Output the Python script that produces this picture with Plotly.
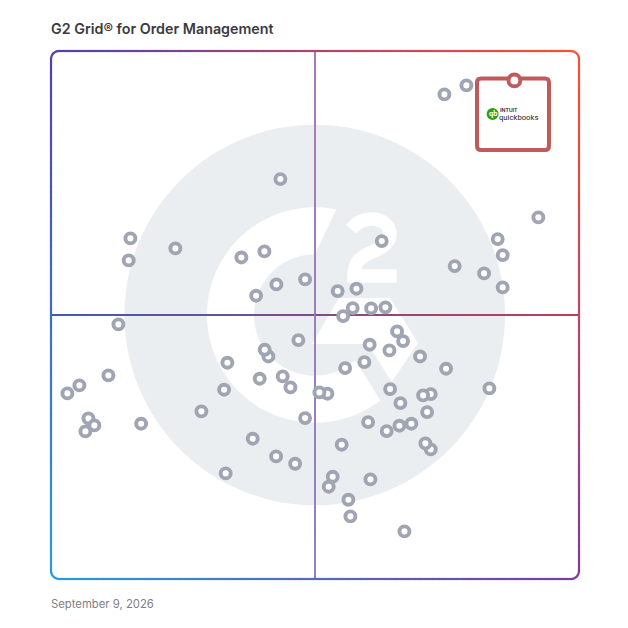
import math
import plotly.graph_objects as go

TITLE = "G2 Grid® for Order Management"
DATE = "September 9, 2026"

satisfaction = [74.43, 78.60, 43.37, 92.23, 14.96, 23.48, 14.64, 35.98, 40.34, 62.56, 84.53, 85.47, 76.38,
                81.95, 85.47, 48.05, 42.61, 38.77, 54.22, 57.77, 57.06, 60.55, 63.26, 55.25, 12.69, 65.47,
                66.61, 60.28, 64.02, 69.83, 46.78, 41.10, 40.40, 33.33, 59.28, 55.63, 74.75, 43.81, 39.45,
                45.27, 32.71, 52.27, 50.76, 64.15, 82.95, 71.84, 70.40, 66.10, 71.16, 28.41, 16.99, 48.05,
                59.98, 68.18, 65.91, 63.50, 38.13, 54.98, 71.84, 70.83, 42.56, 46.16, 33.01, 53.28, 60.42,
                52.52, 56.25, 56.63, 66.86, 10.80, 5.30, 3.03, 7.01, 8.14, 6.44]
presence = [91.86, 93.56, 75.81, 68.56, 64.58, 62.69, 60.42, 60.98, 62.12, 64.07, 64.45, 61.42, 59.34,
            57.95, 55.30, 56.82, 55.87, 53.73, 54.60, 55.06, 51.38, 51.33, 51.52, 49.87, 48.30, 46.97,
            45.13, 44.45, 43.37, 42.23, 45.32, 42.23, 43.50, 41.04, 41.16, 40.02, 39.91, 38.45, 38.01,
            36.36, 35.93, 35.17, 35.42, 36.04, 36.17, 35.09, 34.85, 33.39, 31.69, 31.82, 29.49, 30.55,
            29.79, 29.49, 29.11, 28.09, 26.65, 25.51, 24.62, 25.76, 23.30, 21.91, 20.08, 19.45, 18.94,
            17.56, 15.09, 11.93, 9.09, 38.64, 36.74, 35.23, 30.49, 29.17, 28.03]
selected_satisfaction = [87.69]
selected_presence = [94.51]

W = 628
L, R = 51, 579
MID = (L + R) / 2
OFF = 0.4
px = lambda v: v / W
py = lambda v: 1 - v / W

TL, TR, BR, BL = (82, 64, 171), (253, 80, 48), (124, 59, 156), (42, 155, 216)


def mix(a, b, t):
    return tuple(a[i] + (b[i] - a[i]) * t for i in range(3))


def hexc(c):
    return "rgb(%d,%d,%d)" % tuple(round(v) for v in c)


def grad(x, y):
    u, v = (x - L) / (R - L), (y - L) / (R - L)
    return mix(mix(TL, TR, u), mix(BL, BR, u), v)


shapes = []


def seg(x0, y0, x1, y1, color, width=2):
    shapes.append(dict(type="line", xref="paper", yref="paper", x0=px(x0), y0=py(y0), x1=px(x1), y1=py(y1),
                       line=dict(color=color, width=width), layer="below"))


def poly(points, fill):
    d = "M " + " L ".join(f"{px(a):.5f},{py(b):.5f}" for a, b in points) + " Z"
    shapes.append(dict(type="path", xref="paper", yref="paper", path=d, fillcolor=fill,
                       line=dict(width=0), layer="below"))


# watermark
CX, CY = 314.7, 315
shapes.append(dict(type="circle", xref="paper", yref="paper", x0=px(CX - 190.3), x1=px(CX + 190.3),
                   y0=py(CY - 190.3), y1=py(CY + 190.3), fillcolor="#ebeef1", line=dict(width=0), layer="below"))
RO, RI = 107.7, 60.7


def ang(x, y):
    return math.atan2(y - CY, x - CX)


a0 = ang(336.7, 207.3)
a1 = ang(380, 400)
b0 = ang(315, 254.3)
b1 = ang(355, 360)
def sweep(a, b, r, n=80):
    if a < b:
        a += 2 * math.pi
    return [(CX + r * math.cos(a + (b - a) * i / n), CY + r * math.sin(a + (b - a) * i / n)) for i in range(n + 1)]


poly(sweep(a0, a1, RO) + sweep(b0, b1, RI)[::-1], "white")
poly([(339, 298), (390, 298), (418, 343), (391.7, 382), (368, 344), (312, 344)], "white")
f = lambda x, y: f"{px(x):.5f},{py(y):.5f}"
two = ("M " + f(351, 229) + " C " + f(357, 222) + " " + f(364, 219) + " " + f(372, 219)
       + " C " + f(382, 219) + " " + f(390, 225) + " " + f(390, 234)
       + " C " + f(390, 245) + " " + f(378, 249) + " " + f(368, 254)
       + " C " + f(358, 259) + " " + f(354, 264) + " " + f(354, 276)
       + " L " + f(396.7, 276))
shapes.append(dict(type="path", xref="paper", yref="paper", path=two, line=dict(color="white", width=13.3),
                   layer="below"))

# quadrant lines
STEP = 6
for i in range(0, R - L, STEP):
    a, b = L + i, min(L + i + STEP + 0.4, R)
    t = (a + STEP / 2 - L) / (R - L)
    seg(a, MID, b, MID, hexc(mix((62, 92, 178), (190, 62, 88), t)), 2)
    seg(MID, a, MID, b, hexc(mix((172, 122, 178), (138, 130, 200), t)), 2)

# gradient border with rounded corners
RAD = 8
path = []
for x in range(L + RAD, R - RAD, STEP):
    path.append((x, L))
for k in range(7):
    th = -math.pi / 2 + k * math.pi / 12
    path.append((R - RAD + RAD * math.cos(th), L + RAD + RAD * math.sin(th)))
for y in range(L + RAD, R - RAD, STEP):
    path.append((R, y))
for k in range(7):
    th = k * math.pi / 12
    path.append((R - RAD + RAD * math.cos(th), R - RAD + RAD * math.sin(th)))
for x in range(R - RAD, L + RAD, -STEP):
    path.append((x, R))
for k in range(7):
    th = math.pi / 2 + k * math.pi / 12
    path.append((L + RAD + RAD * math.cos(th), R - RAD + RAD * math.sin(th)))
for y in range(R - RAD, L + RAD, -STEP):
    path.append((L, y))
for k in range(7):
    th = math.pi + k * math.pi / 12
    path.append((L + RAD + RAD * math.cos(th), L + RAD + RAD * math.sin(th)))
path.append(path[0])
for (x0, y0), (x1, y1) in zip(path, path[1:]):
    d = math.hypot(x1 - x0, y1 - y0) or 1
    ex, ey = (x1 - x0) / d * 0.4, (y1 - y0) / d * 0.4
    seg(x0, y0, x1 + ex, y1 + ey, hexc(grad((x0 + x1) / 2, (y0 + y1) / 2)), 2.2)

# selected product box
BX0, BY0, BX1, BY1, BR_ = 477, 78.5, 549, 150, 4
box = ("M " + f(BX0 + BR_, BY0) + " L " + f(BX1 - BR_, BY0) + " Q " + f(BX1, BY0) + " " + f(BX1, BY0 + BR_)
       + " L " + f(BX1, BY1 - BR_) + " Q " + f(BX1, BY1) + " " + f(BX1 - BR_, BY1)
       + " L " + f(BX0 + BR_, BY1) + " Q " + f(BX0, BY1) + " " + f(BX0, BY1 - BR_)
       + " L " + f(BX0, BY0 + BR_) + " Q " + f(BX0, BY0) + " " + f(BX0 + BR_, BY0) + " Z")
shapes.append(dict(type="path", xref="paper", yref="paper", path=box, fillcolor="white",
                   line=dict(color="#c05b5b", width=4), layer="below"))
shapes.append(dict(type="circle", xref="paper", yref="paper", x0=px(486.6), x1=px(498.6), y0=py(108), y1=py(120),
                   fillcolor="#2ca01c", line=dict(width=0), layer="below"))


def label(x, y, text, size, color, family="Inter", weight=400, xanchor="left"):
    return dict(xref="paper", yref="paper", x=px(x), y=py(y), text=text, showarrow=False, xanchor=xanchor,
                yanchor="middle", align="left", borderpad=0, borderwidth=0,
                font=dict(size=size, color=color, family=family, weight=weight))


annotations = [
    label(50.5, 28.6, TITLE, 14.3, "#3b3b3f", weight=600),
    label(50.5, 604, DATE, 11.3, "#7f7f84"),
    label(492.6, 113.6, "qb", 7.5, "white", "Roboto", 700, "center"),
    label(499.8, 110, "INTUIT", 5.6, "#222222", "Roboto", 500),
    label(499.4, 117, "quickbooks", 7.7, "#222222", "Roboto", 400),
]

fig = go.Figure()
fig.add_trace(go.Scatter(x=satisfaction, y=presence, mode="markers", cliponaxis=False, hoverinfo="skip",
                         marker=dict(size=10, color="white", line=dict(color="#a0a5b3", width=3.9))))
fig.add_trace(go.Scatter(x=selected_satisfaction, y=selected_presence, mode="markers", cliponaxis=False,
                         hoverinfo="skip",
                         marker=dict(size=11.8, color="white", line=dict(color="#c05b5b", width=3.9))))
fig.update_layout(
    width=W, height=W, margin=dict(l=0, r=0, t=0, b=0), showlegend=False,
    paper_bgcolor="white", plot_bgcolor="rgba(0,0,0,0)", shapes=shapes, annotations=annotations,
    xaxis=dict(domain=[(L + OFF) / W, (R + OFF) / W], range=[0, 100], visible=False, fixedrange=True),
    yaxis=dict(domain=[1 - (R + OFF) / W, 1 - (L + OFF) / W], range=[0, 100], visible=False, fixedrange=True),
)
fig.write_html("out.html", config=dict(displayModeBar=False),
               post_script="document.body.style.margin='0';document.body.style.overflow='hidden';")
